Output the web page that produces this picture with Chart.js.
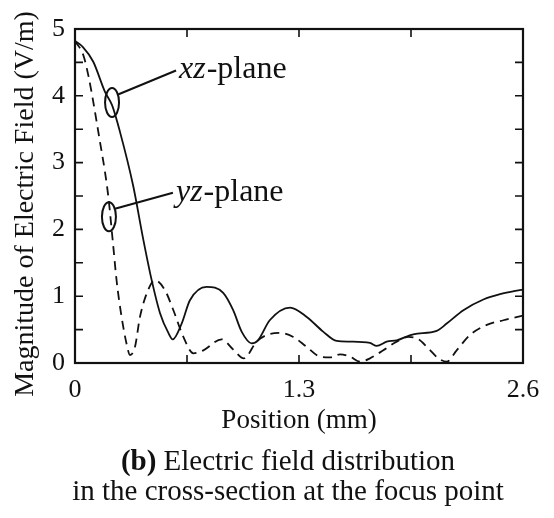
<!DOCTYPE html>
<html>
<head>
<meta charset="utf-8">
<script src="https://cdn.jsdelivr.net/npm/chart.js@4.4.1/dist/chart.umd.min.js"></script>
<style>
  html, body { margin: 0; padding: 0; background: #fff; }
  #wrap { position: relative; width: 554px; height: 518px; }
  #caption {
    position: absolute; left: 11px; top: 445px; width: 554px;
    text-align: center; color: #111;
    font-family: "Liberation Serif", "Times New Roman", serif;
    font-size: 29px; line-height: 30px;
  }
</style>
</head>
<body>
<div id="wrap">
  <canvas id="chart" width="554" height="518"></canvas>
  <div id="caption"><b>(b)</b> Electric field distribution<br>in the cross-section at the focus point</div>
</div>
<script>
// xz-plane (solid) — position in mm, field in V/m
const xzPos = [0, 0.046, 0.106, 0.174, 0.215, 0.261, 0.337, 0.397, 0.445, 0.493, 0.542, 0.567,
  0.619, 0.667, 0.764, 0.86, 0.918, 0.967, 1.025, 1.062, 1.13, 1.248, 1.345, 1.44, 1.519,
  1.596, 1.712, 1.751, 1.809, 1.867, 1.963, 2.099, 2.157, 2.254, 2.37, 2.467, 2.6];
const xzVal = [4.82, 4.73, 4.51, 4.06, 3.86, 3.46, 2.66, 1.84, 1.24, 0.75, 0.45, 0.355,
  0.59, 0.94, 1.14, 1.05, 0.79, 0.47, 0.295, 0.34, 0.64, 0.83, 0.69, 0.47, 0.33,
  0.32, 0.30, 0.255, 0.32, 0.34, 0.43, 0.48, 0.59, 0.79, 0.95, 1.03, 1.10];

// yz-plane (dashed)
const yzPos = [0, 0.048, 0.077, 0.106, 0.145, 0.174, 0.193, 0.222, 0.242, 0.271, 0.30, 0.319,
  0.348, 0.377, 0.416, 0.464, 0.522, 0.571, 0.629, 0.687, 0.745, 0.851, 0.919, 0.98,
  1.054, 1.113, 1.19, 1.267, 1.345, 1.422, 1.48, 1.538, 1.596, 1.654, 1.712, 1.789,
  1.867, 1.934, 1.993, 2.05, 2.109, 2.157, 2.215, 2.293, 2.39, 2.486, 2.6];
const yzVal = [4.82, 4.61, 4.31, 3.91, 3.31, 2.86, 2.5, 1.75, 1.22, 0.68, 0.28, 0.12,
  0.24, 0.69, 1.04, 1.24, 1.09, 0.79, 0.39, 0.145, 0.19, 0.355, 0.20, 0.07,
  0.32, 0.42, 0.45, 0.39, 0.24, 0.095, 0.085, 0.13, 0.095, 0.02, 0.07, 0.19,
  0.32, 0.39, 0.355, 0.22, 0.07, 0.02, 0.19, 0.42, 0.57, 0.64, 0.71];

const xTicks = [0, 0.65, 1.3, 1.95, 2.6];
const xLabels = ['0', '', '1.3', '', '2.6'];
const yTicks = [0, 0.5, 1, 1.5, 2, 2.5, 3, 3.5, 4, 4.5, 5];
const yTitle = 'Magnitude of Electric Field (V/m)';

// callouts: ellipse centre on the curve, then the label
const callouts = [
  { italic: 'xz', rest: '-plane', x: 0.215, y: 3.9, rise: 24 },
  { italic: 'yz', rest: '-plane', x: 0.197, y: 2.19, rise: 16 }
];

const ink = '#111';
const serif = '"Liberation Serif", "Times New Roman", serif';

Chart.defaults.font.family = serif;
Chart.defaults.color = ink;

function toPoints(xs, ys) {
  return xs.map((x, i) => ({ x: x, y: ys[i] }));
}

// frame around the plot with inward tick marks on all four sides
const frameTicks = {
  id: 'frameTicks',
  afterDraw(chart) {
    const { ctx, chartArea: a, scales } = chart;
    const len = 8;
    ctx.save();
    ctx.strokeStyle = ink;
    ctx.lineWidth = 1.6;
    xTicks.forEach(v => {
      if (v === 0 || v === 2.6) return;
      const px = scales.x.getPixelForValue(v);
      ctx.beginPath();
      ctx.moveTo(px, a.bottom); ctx.lineTo(px, a.bottom - len);
      ctx.moveTo(px, a.top); ctx.lineTo(px, a.top + len);
      ctx.stroke();
    });
    yTicks.forEach(v => {
      if (v === 0 || v === 5) return;
      const py = scales.y.getPixelForValue(v);
      ctx.beginPath();
      ctx.moveTo(a.left, py); ctx.lineTo(a.left + len, py);
      ctx.moveTo(a.right, py); ctx.lineTo(a.right - len, py);
      ctx.stroke();
    });
    ctx.lineWidth = 2.2;
    ctx.strokeRect(a.left, a.top, a.right - a.left, a.bottom - a.top);

    // vertical axis title, sitting a little below the plot's middle
    ctx.font = '28px ' + serif;
    ctx.fillStyle = ink;
    ctx.textAlign = 'center';
    ctx.textBaseline = 'middle';
    ctx.translate(26, (a.top + a.bottom) / 2 + 8);
    ctx.rotate(-Math.PI / 2);
    ctx.fillText(yTitle, 0, 0);
    ctx.restore();
  }
};

const calloutPlugin = {
  id: 'callouts',
  afterDatasetsDraw(chart) {
    const { ctx, scales } = chart;
    ctx.save();
    ctx.strokeStyle = ink;
    ctx.fillStyle = ink;
    ctx.lineWidth = 2;
    callouts.forEach(c => {
      const cx = scales.x.getPixelForValue(c.x);
      const cy = scales.y.getPixelForValue(c.y);
      ctx.beginPath();
      ctx.ellipse(cx, cy, 7, 14.5, 0, 0, Math.PI * 2);
      ctx.stroke();
      const ex = cx + 64, ey = cy - 8 - c.rise;
      ctx.beginPath();
      ctx.moveTo(cx + 6, cy - 8);
      ctx.lineTo(ex, ey);
      ctx.stroke();
      const tx = ex + 3, ty = ey + 8;
      ctx.textBaseline = 'alphabetic';
      ctx.font = 'italic 32px ' + serif;
      ctx.fillText(c.italic, tx, ty);
      const w = ctx.measureText(c.italic).width;
      ctx.font = '32px ' + serif;
      ctx.fillText(c.rest, tx + w + 1, ty);
    });
    ctx.restore();
  }
};

new Chart(document.getElementById('chart'), {
  type: 'line',
  data: {
    datasets: [
      {
        label: 'xz-plane',
        data: toPoints(xzPos, xzVal),
        borderColor: ink,
        borderWidth: 1.8,
        pointRadius: 0,
        cubicInterpolationMode: 'monotone',
        fill: false
      },
      {
        label: 'yz-plane',
        data: toPoints(yzPos, yzVal),
        borderColor: ink,
        borderWidth: 1.8,
        borderDash: [9, 6],
        pointRadius: 0,
        cubicInterpolationMode: 'monotone',
        fill: false
      }
    ]
  },
  options: {
    responsive: false,
    animation: false,
    layout: { padding: { left: 0, top: 29, right: 31, bottom: 73 } },
    plugins: { legend: { display: false }, tooltip: { enabled: false } },
    scales: {
      x: {
        type: 'linear',
        min: 0,
        max: 2.6,
        grid: { display: false, drawTicks: false },
        border: { display: false },
        afterBuildTicks: scale => { scale.ticks = xTicks.map(v => ({ value: v })); },
        afterFit: scale => { scale.height = 82; },
        ticks: {
          autoSkip: false,
          maxRotation: 0,
          padding: 12,
          font: { size: 26 },
          callback: (v, i) => xLabels[i]
        },
        title: {
          display: true,
          text: 'Position (mm)',
          font: { size: 27 },
          padding: { top: 0, bottom: 8 }
        }
      },
      y: {
        min: 0,
        max: 5,
        grid: { display: false, drawTicks: false },
        border: { display: false },
        afterBuildTicks: scale => { scale.ticks = yTicks.map(v => ({ value: v })); },
        afterFit: scale => { scale.width = 75; },
        ticks: {
          autoSkip: false,
          padding: 10,
          font: { size: 26 },
          callback: v => (Number.isInteger(v) ? String(v) : '')
        }
      }
    }
  },
  plugins: [frameTicks, calloutPlugin]
});
</script>
</body>
</html>
